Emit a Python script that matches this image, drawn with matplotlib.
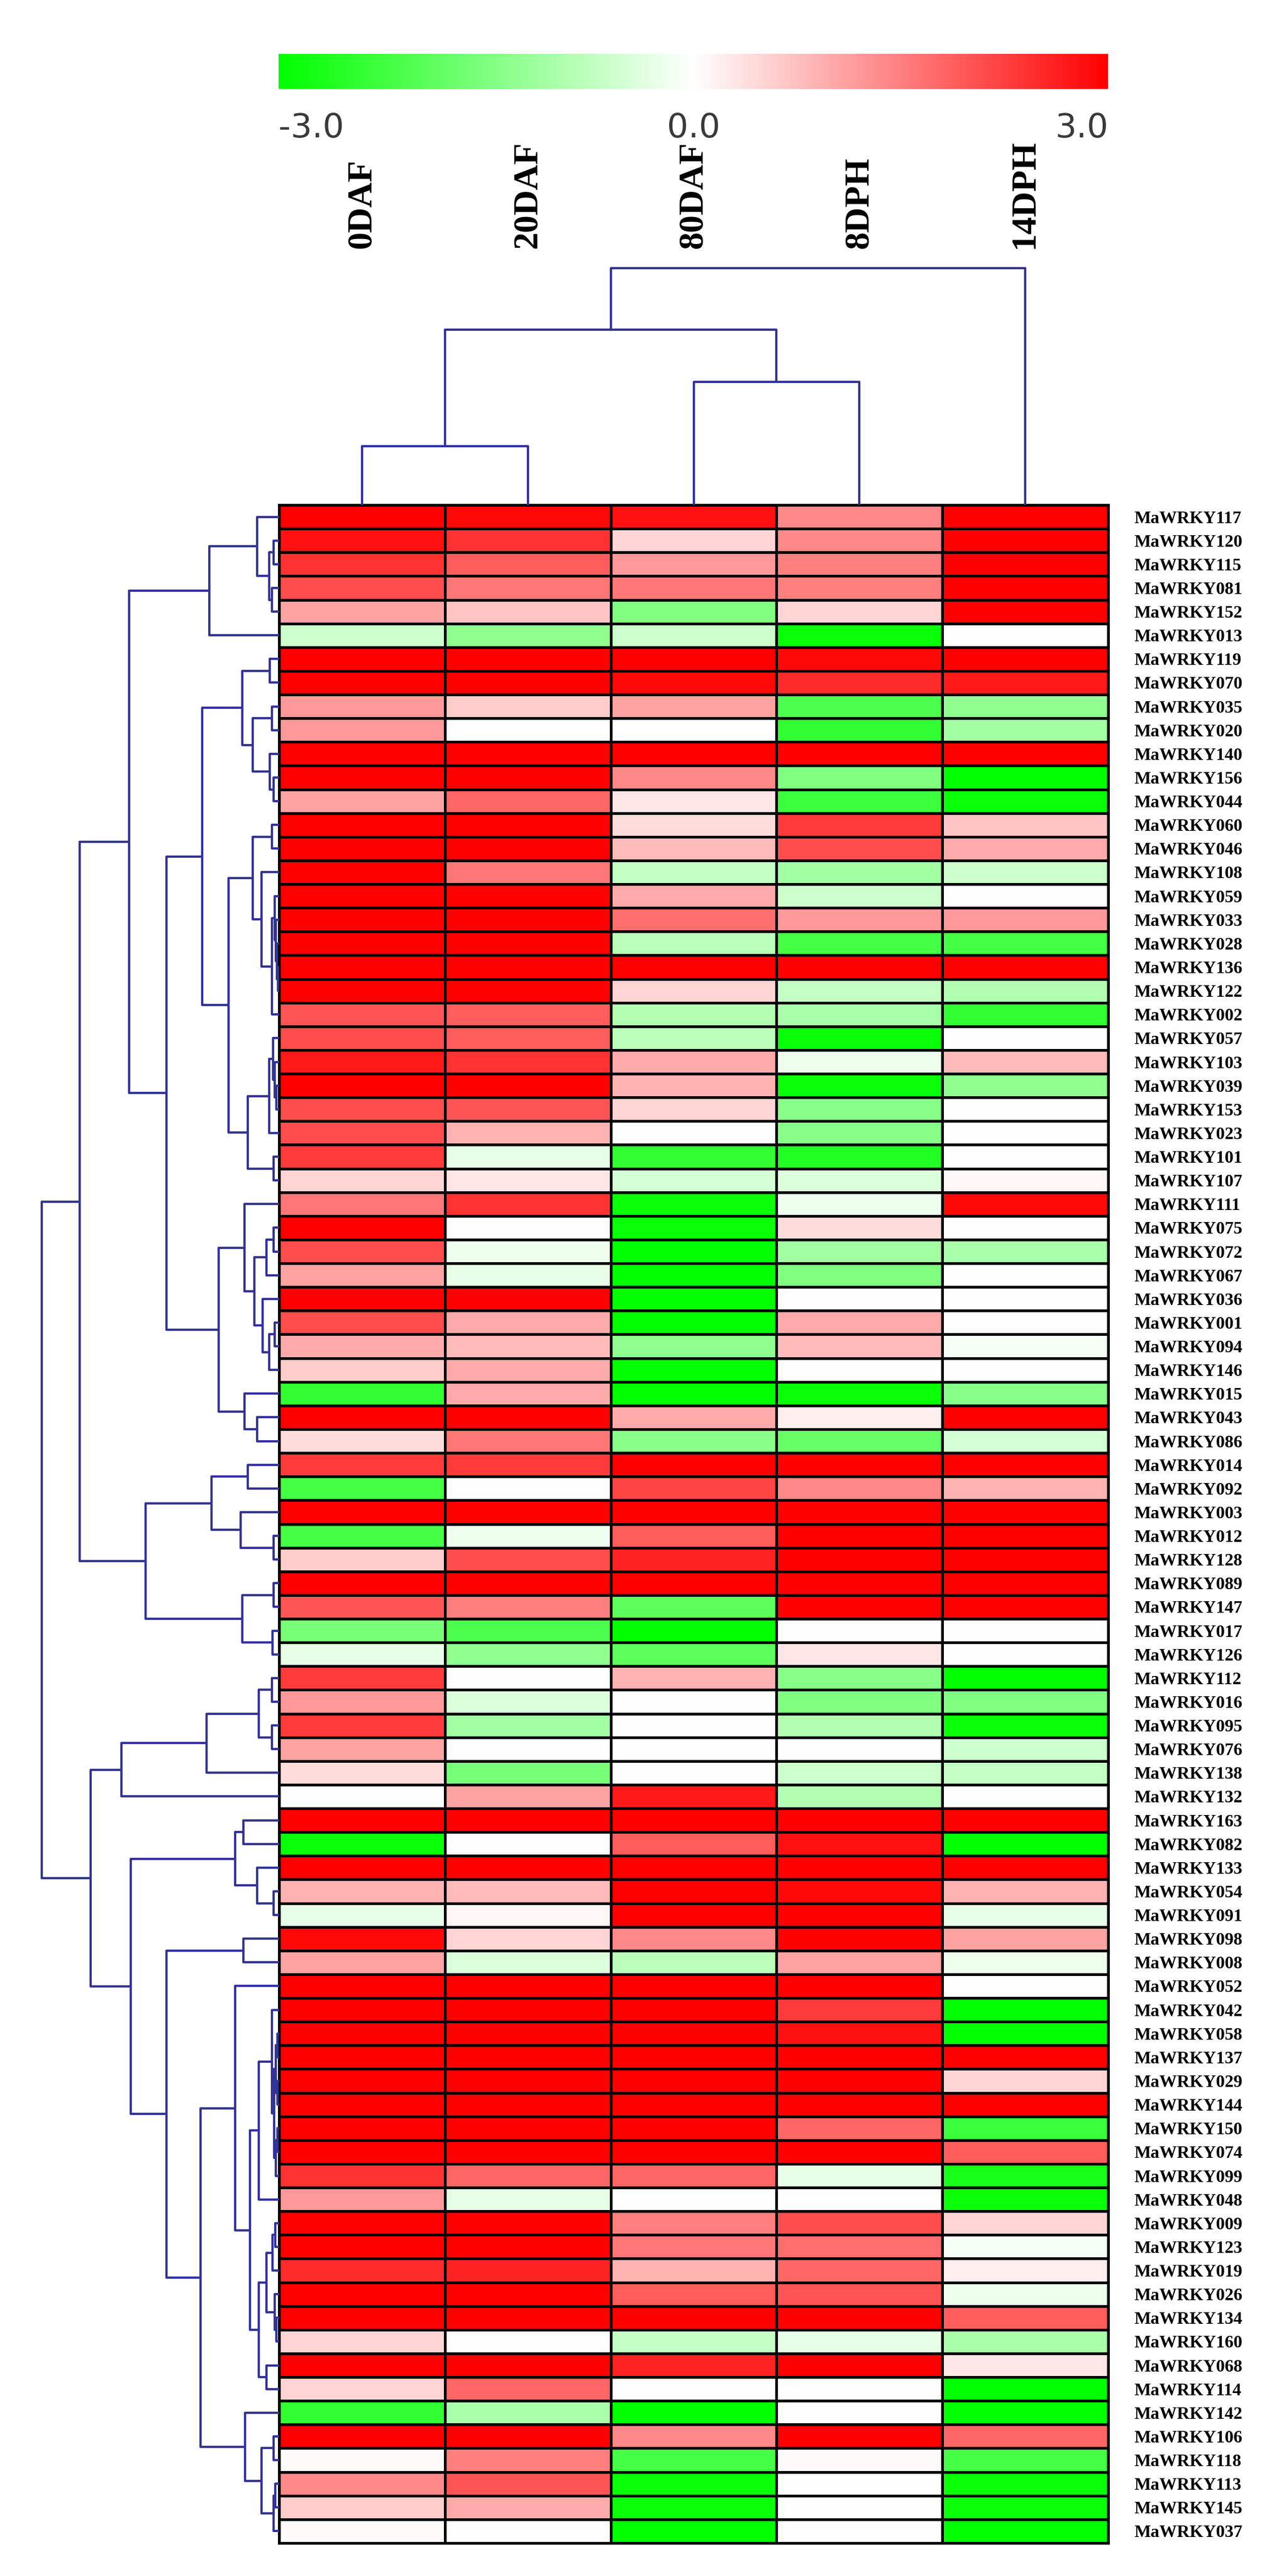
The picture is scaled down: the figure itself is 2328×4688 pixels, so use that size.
import matplotlib
matplotlib.use("Agg")
import matplotlib.pyplot as plt
import numpy as np
from matplotlib.colors import LinearSegmentedColormap, Normalize
from matplotlib import cm
import matplotlib.transforms as mtransforms

# ---------------- data ----------------
CONDITIONS = ["0DAF", "20DAF", "80DAF", "8DPH", "14DPH"]

GENES = ["MaWRKY117", "MaWRKY120", "MaWRKY115", "MaWRKY081", "MaWRKY152", "MaWRKY013",
         "MaWRKY119", "MaWRKY070", "MaWRKY035", "MaWRKY020", "MaWRKY140", "MaWRKY156",
         "MaWRKY044", "MaWRKY060", "MaWRKY046", "MaWRKY108", "MaWRKY059", "MaWRKY033",
         "MaWRKY028", "MaWRKY136", "MaWRKY122", "MaWRKY002", "MaWRKY057", "MaWRKY103",
         "MaWRKY039", "MaWRKY153", "MaWRKY023", "MaWRKY101", "MaWRKY107", "MaWRKY111",
         "MaWRKY075", "MaWRKY072", "MaWRKY067", "MaWRKY036", "MaWRKY001", "MaWRKY094",
         "MaWRKY146", "MaWRKY015", "MaWRKY043", "MaWRKY086", "MaWRKY014", "MaWRKY092",
         "MaWRKY003", "MaWRKY012", "MaWRKY128", "MaWRKY089", "MaWRKY147", "MaWRKY017",
         "MaWRKY126", "MaWRKY112", "MaWRKY016", "MaWRKY095", "MaWRKY076", "MaWRKY138",
         "MaWRKY132", "MaWRKY163", "MaWRKY082", "MaWRKY133", "MaWRKY054", "MaWRKY091",
         "MaWRKY098", "MaWRKY008", "MaWRKY052", "MaWRKY042", "MaWRKY058", "MaWRKY137",
         "MaWRKY029", "MaWRKY144", "MaWRKY150", "MaWRKY074", "MaWRKY099", "MaWRKY048",
         "MaWRKY009", "MaWRKY123", "MaWRKY019", "MaWRKY026", "MaWRKY134", "MaWRKY160",
         "MaWRKY068", "MaWRKY114", "MaWRKY142", "MaWRKY106", "MaWRKY118", "MaWRKY113",
         "MaWRKY145", "MaWRKY037"]

V_0DAF = [3.0, 2.8, 2.4, 2.1, 1.1, -0.6, 3.0, 3.0, 1.2, 1.2,
          3.0, 3.0, 1.1, 3.0, 3.0, 3.0, 3.0, 3.0, 3.0, 3.0,
          3.0, 2.0, 2.1, 2.7, 3.0, 2.1, 2.1, 2.3, 0.5, 1.6,
          3.0, 2.1, 1.1, 3.0, 2.1, 1.0, 0.6, -2.4, 3.0, 0.4,
          2.3, -2.2, 3.0, -2.2, 0.6, 3.0, 2.0, -1.6, -0.3, 2.3,
          1.2, 2.3, 1.1, 0.4, 0.0, 3.0, -2.9, 3.0, 0.9, -0.3,
          2.9, 1.1, 3.0, 3.0, 3.0, 3.0, 3.0, 3.0, 3.0, 3.0,
          2.4, 1.2, 3.0, 3.0, 2.5, 3.0, 3.0, 0.5, 3.0, 0.5,
          -2.4, 3.0, 0.05, 1.4, 0.6, 0.05]
V_20DAF = [2.9, 2.4, 1.9, 1.6, 0.7, -1.3, 3.0, 3.0, 0.6, 0.0,
           3.0, 3.0, 1.8, 3.0, 3.0, 1.6, 3.0, 3.0, 3.0, 3.0,
           3.0, 1.9, 1.9, 2.4, 3.0, 2.0, 0.9, -0.3, 0.3, 2.4,
           0.0, -0.2, -0.3, 3.0, 1.0, 0.8, 1.0, 1.0, 3.0, 1.6,
           2.3, 0.0, 3.0, -0.2, 2.1, 3.0, 1.5, -2.1, -1.3, 0.0,
           -0.4, -1.1, 0.0, -1.6, 1.1, 3.0, 0.0, 3.0, 0.8, 0.1,
           0.5, -0.4, 3.0, 3.0, 3.0, 3.0, 3.0, 3.0, 3.0, 3.0,
           1.8, -0.3, 3.0, 3.0, 2.6, 3.0, 3.0, 0.0, 3.0, 1.8,
           -1.0, 3.0, 1.5, 2.0, 1.0, 0.0]
V_80DAF = [2.8, 0.5, 1.2, 1.6, -1.5, -0.6, 3.0, 2.9, 1.1, 0.0,
           3.0, 1.4, 0.3, 0.4, 0.8, -0.7, 1.0, 1.7, -0.8, 3.0,
           0.5, -0.9, -0.8, 1.0, 0.9, 0.5, 0.0, -2.4, -0.5, -2.9,
           -2.9, -3.0, -3.0, -3.0, -3.0, -1.3, -3.0, -3.0, 1.0, -1.4,
           3.0, 2.2, 3.0, 1.9, 2.6, 3.0, -1.9, -3.0, -1.9, 0.9,
           0.0, 0.0, 0.0, 0.0, 2.7, 3.0, 1.9, 3.0, 3.0, 3.0,
           1.4, -0.8, 3.0, 3.0, 3.0, 3.0, 3.0, 3.0, 3.0, 3.0,
           1.8, 0.0, 1.5, 1.6, 0.9, 1.9, 3.0, -0.7, 2.6, 0.0,
           -3.0, 1.4, -2.2, -2.9, -2.9, -3.0]
V_8DPH = [1.4, 1.4, 1.5, 1.5, 0.5, -2.9, 2.9, 2.5, -2.1, -2.4,
          3.0, -1.5, -2.3, 2.3, 2.1, -1.1, -0.6, 1.2, -2.2, 3.0,
          -0.7, -1.0, -2.9, -0.2, -2.9, -1.4, -1.4, -2.6, -0.4, -0.2,
          0.4, -1.1, -1.5, 0.0, 1.0, 0.8, 0.0, -2.9, 0.2, -1.8,
          3.0, 1.4, 3.0, 3.0, 3.0, 3.0, 3.0, 0.0, 0.3, -1.4,
          -1.5, -0.9, 0.0, -0.6, -0.9, 3.0, 2.8, 3.0, 2.9, 3.0,
          3.0, 1.1, 3.0, 2.3, 2.8, 3.0, 3.0, 3.0, 1.8, 3.0,
          -0.3, 0.0, 2.1, 1.7, 1.8, 2.0, 3.0, -0.3, 3.0, 0.0,
          0.0, 3.0, 0.05, 0.0, 0.0, 0.0]
V_14DPH = [3.0, 3.0, 3.0, 3.0, 3.0, 0.0, 3.0, 2.7, -1.3, -1.1,
           3.0, -3.0, -2.9, 0.7, 1.0, -0.6, 0.0, 1.2, -2.2, 3.0,
           -0.9, -2.4, 0.0, 0.8, -1.3, 0.0, 0.0, 0.0, 0.1, 2.9,
           0.0, -1.0, 0.0, 0.0, 0.0, -0.1, 0.0, -1.4, 3.0, -0.5,
           3.0, 0.9, 3.0, 3.0, 3.0, 3.0, 3.0, 0.0, 0.0, -3.0,
           -1.5, -2.9, -0.6, -0.7, 0.0, 3.0, -3.0, 3.0, 0.9, -0.3,
           1.1, -0.2, 0.0, -3.0, -3.0, 3.0, 0.5, 3.0, -2.3, 1.9,
           -2.7, -2.9, 0.5, -0.1, 0.2, -0.2, 1.9, -1.0, 0.3, -3.0,
           -3.0, 1.8, -2.2, -2.9, -2.9, -3.0]

COLORBAR_TICKS = [-3.0, 0.0, 3.0]
COLORBAR_LABELS = ["-3.0", "0.0", "3.0"]

# dendrograms: [left, right, merge height]; integers are leaf indices
COL_TREE = [[[0, 1, 1.07], [2, 3, 2.24], 3.19], 4, 4.31]

TREE_B = [[0, [[1, 2, 0.10], [3, 4, 0.13], 0.18], 0.40], 5, 1.27]
TREE_G = [[6, 7, 0.17], [[8, 9, 0.13], [10, [11, 12, 0.10], 0.17], 0.48], 0.67]
TREE_H = [[[13, 14, 0.13],
           [15, [[16, [17, [18, [19, 20, 0.02], 0.04], 0.06], 0.08], 21, 0.13], 0.32], 0.48],
          [[[22, [23, [24, 25, 0.05], 0.08], 0.11], 26, 0.18], [27, 28, 0.10], 0.57], 0.92]
TREE_F = [[29, [[[30, 31, 0.10], 32, 0.23], [33, [[34, 35, 0.08], 36, 0.18], 0.30], 0.45], 0.63],
          [37, [38, 39, 0.40], 0.63], 1.10]
TREE_C = [TREE_B, [[TREE_G, TREE_H, 1.40], TREE_F, 2.05], 2.73]
TREE_L = [[[40, 41, 0.57], [42, [43, 44, 0.10], 0.70], 1.23],
          [[45, 46, 0.10], [47, 48, 0.12], 0.67], 2.43]
TREE_M = [[[[49, 50, 0.13], [51, 52, 0.13], 0.37], 53, 1.32], 54, 2.87]
TREE_N1 = [[55, 56, 0.65], [57, [58, 59, 0.10], 0.40], 0.80]
TREE_SUB = [63, [[[64, 65, 0.03], [66, 67, 0.03], 0.06], [[68, 69, 0.03], 70, 0.06], 0.09], 0.13]
TREE_N2B1 = [62, [[TREE_SUB, 71, 0.37],
                  [[[[72, 73, 0.07], 74, 0.12], [75, [76, 77, 0.05], 0.08], 0.23],
                   [78, 79, 0.23], 0.37], 0.53], 0.80]
TREE_N2B2 = [80, [[81, 82, 0.10], [[83, 84, 0.07], 85, 0.10], 0.32], 0.62]
TREE_N = [TREE_N1, [[60, 61, 0.65], [TREE_N2B1, TREE_N2B2, 1.43], 2.05], 2.70]
ROW_TREE = [[TREE_C, TREE_L, 3.63], [TREE_M, TREE_N, 3.43], 4.32]

# ---------------- figure ----------------
W, H = 2328, 4688
fig = plt.figure(figsize=(W / 100, H / 100), dpi=100)
fig.patch.set_facecolor("white")


def fx(px):
    return px / W


def fy(py):
    return 1 - py / H


cmap = LinearSegmentedColormap.from_list("gwr", ["#00FF00", "#FFFFFF", "#FF0000"])
norm = Normalize(vmin=-3, vmax=3)

hm_left, hm_right, hm_top, hm_bottom = 508, 2017, 919, 4628
ax = fig.add_axes([fx(hm_left), fy(hm_bottom), fx(hm_right - hm_left), (hm_bottom - hm_top) / H])
data = np.array([V_0DAF, V_20DAF, V_80DAF, V_8DPH, V_14DPH]).T
nrow, ncol = data.shape
mesh = ax.pcolormesh(np.arange(ncol + 1), np.arange(nrow + 1), data, cmap=cmap, norm=norm,
                     edgecolors="black", linewidth=3.6)
mesh.set_clip_on(False)
ax.set_xlim(0, ncol)
ax.set_ylim(nrow, 0)
ax.set_xticks([])
ax.yaxis.tick_right()
ax.set_yticks(np.arange(nrow) + 0.5)
ax.set_yticklabels(GENES, fontfamily="Liberation Serif", fontweight="bold", fontsize=23)
ax.tick_params(axis="y", length=0, pad=34)
for s in ax.spines.values():
    s.set_linewidth(3.6)
    s.set_color("black")

# column labels
trans = mtransforms.blended_transform_factory(ax.transData, fig.transFigure)
for j, c in enumerate(CONDITIONS):
    fig.text(j + 0.5, fy(452), c, transform=trans, rotation=90, ha="center", va="bottom",
             fontfamily="Liberation Serif", fontweight="bold", fontsize=46)

# dendrogram drawing
LINE_COLOR = "#333399"
LW = 3.0


def draw_tree(axd, node, horizontal):
    if isinstance(node, int):
        return node + 0.5, 0.0
    a, b, h = node
    pa, ha = draw_tree(axd, a, horizontal)
    pb, hb = draw_tree(axd, b, horizontal)
    hs = [ha, h, h, hb]
    ps = [pa, pa, pb, pb]
    if horizontal:
        axd.plot(hs, ps, color=LINE_COLOR, lw=LW, solid_capstyle="butt", clip_on=False)
    else:
        axd.plot(ps, hs, color=LINE_COLOR, lw=LW, solid_capstyle="butt", clip_on=False)
    return (pa + pb) / 2, h


# row dendrogram
axr = fig.add_axes([fx(hm_left - 450), fy(hm_bottom), fx(450), (hm_bottom - hm_top) / H])
draw_tree(axr, ROW_TREE, horizontal=True)
axr.set_xlim(4.5, 0)
axr.set_ylim(nrow, 0)
axr.axis("off")

# column dendrogram
axc = fig.add_axes([fx(hm_left), fy(hm_top), fx(hm_right - hm_left), 450 / H])
draw_tree(axc, COL_TREE, horizontal=False)
axc.set_xlim(0, ncol)
axc.set_ylim(0, 4.5)
axc.axis("off")

# colorbar
cax = fig.add_axes([fx(507), fy(162), fx(2017 - 507), 64 / H])
sm = cm.ScalarMappable(norm=norm, cmap=cmap)
cb = fig.colorbar(sm, cax=cax, orientation="horizontal")
cb.outline.set_visible(False)
cb.set_ticks(COLORBAR_TICKS)
cb.set_ticklabels(COLORBAR_LABELS)
cax.tick_params(axis="x", length=0, pad=30, labelsize=44, labelcolor="#3a3a3a")
for lbl, ha in zip(cax.get_xticklabels(), ["left", "center", "right"]):
    lbl.set_horizontalalignment(ha)
    lbl.set_fontfamily("DejaVu Sans")

fig.savefig("out.png", dpi=100, facecolor="white")
